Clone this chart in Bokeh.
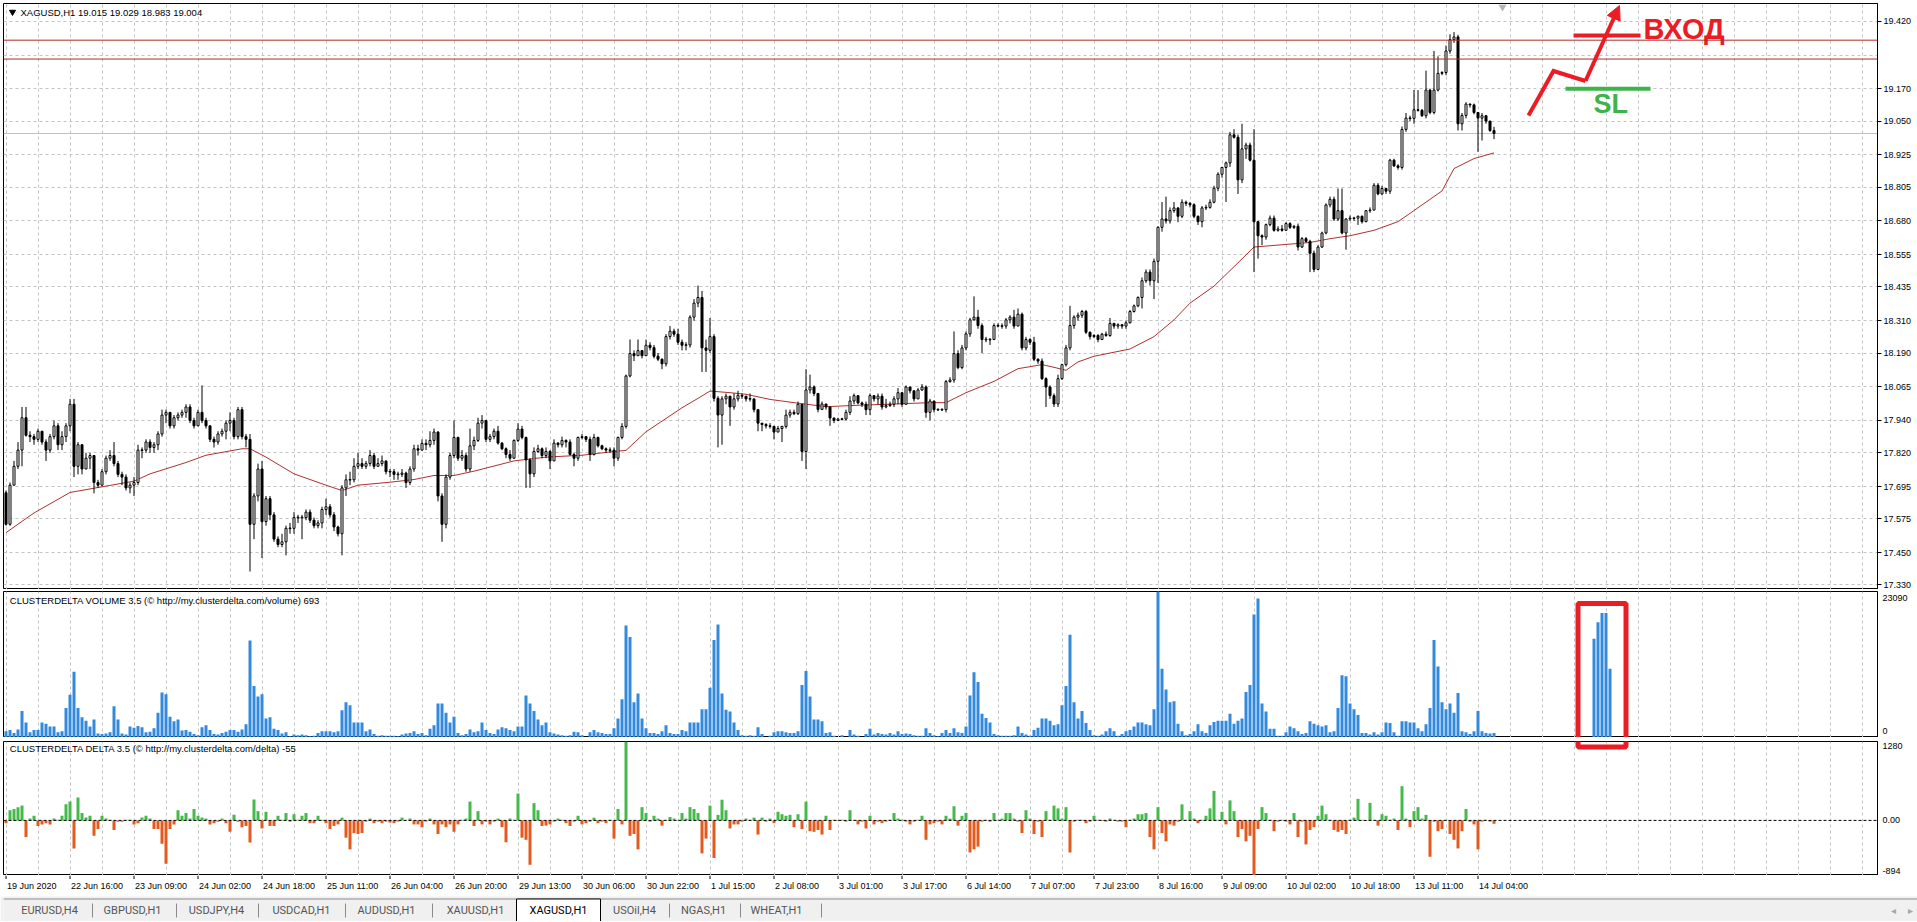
from bokeh.plotting import figure
from bokeh.layouts import column
from bokeh.models import (Range1d, FixedTicker, PrintfTickFormatter, Label, Span,
                          Arrow, NormalHead, ColumnDataSource)
from bokeh.core.properties import value
from bokeh.embed import file_html
from bokeh.resources import INLINE

# ---------------------------------------------------------------- data
symbol = "XAGUSD,H1"
first_open = 17.672

closes = [
17.555,17.70,17.77,17.83,17.95,17.885,17.88,17.87,17.90,17.86,
17.83,17.88,17.92,17.85,17.88,17.92,18.00,17.77,17.85,17.76,
17.80,17.81,17.71,17.70,17.75,17.80,17.81,17.78,17.74,17.73,
17.69,17.70,17.71,17.83,17.83,17.86,17.84,17.85,17.89,17.96,
17.97,17.92,17.95,17.96,17.97,17.99,17.94,17.92,17.97,17.94,
17.92,17.87,17.86,17.89,17.90,17.93,17.94,17.88,17.98,17.88,
17.87,17.555,17.66,17.76,17.565,17.65,17.59,17.50,17.48,17.49,
17.54,17.54,17.58,17.58,17.58,17.60,17.57,17.55,17.56,17.61,
17.62,17.59,17.545,17.52,17.69,17.72,17.72,17.77,17.78,17.77,
17.78,17.81,17.77,17.78,17.79,17.75,17.75,17.74,17.74,17.745,
17.71,17.76,17.835,17.83,17.855,17.85,17.866,17.897,17.66,17.555,
17.73,17.81,17.877,17.80,17.81,17.76,17.846,17.866,17.93,17.94,
17.87,17.88,17.90,17.856,17.835,17.814,17.80,17.866,17.908,17.877,
17.794,17.742,17.825,17.835,17.81,17.825,17.79,17.856,17.85,17.866,
17.86,17.814,17.80,17.877,17.88,17.87,17.814,17.877,17.846,17.835,
17.83,17.83,17.80,17.877,17.918,18.105,18.188,18.18,18.199,18.18,
18.219,18.21,18.178,18.167,18.15,18.251,18.271,18.26,18.23,18.219,
18.22,18.323,18.375,18.396,18.209,18.20,18.251,18.022,17.96,18.02,
18.03,17.99,18.02,18.033,18.03,18.02,18.02,17.98,17.93,17.925,
17.92,17.918,17.897,17.91,17.918,17.96,17.97,17.965,18.00,17.825,
18.053,18.064,18.04,17.981,18.001,17.99,17.949,17.94,17.945,17.945,
17.97,18.012,18.032,18.005,18.00,17.98,18.032,18.02,18.03,17.99,
17.995,18.00,18.02,18.043,18.00,18.064,18.05,18.02,18.053,18.064,
17.97,18.012,17.98,17.98,17.98,18.084,18.09,18.188,18.136,18.209,
18.261,18.313,18.323,18.292,18.24,18.24,18.24,18.292,18.29,18.29,
18.313,18.323,18.29,18.334,18.209,18.24,18.23,18.167,18.16,18.095,
18.064,18.032,18.001,18.095,18.147,18.209,18.292,18.323,18.33,18.344,
18.267,18.251,18.255,18.24,18.26,18.255,18.30,18.29,18.295,18.29,
18.302,18.344,18.365,18.396,18.458,18.49,18.458,18.53,18.656,18.687,
18.68,18.718,18.728,18.697,18.749,18.745,18.74,18.697,18.677,18.728,
18.73,18.749,18.801,18.853,18.878,18.895,18.999,18.99,18.832,18.947,
18.961,18.905,18.677,18.625,18.62,18.666,18.69,18.645,18.65,18.645,
18.67,18.656,18.66,18.583,18.614,18.604,18.56,18.50,18.583,18.635,
18.739,18.76,18.687,18.718,18.635,18.687,18.69,18.69,18.697,18.677,
18.718,18.72,18.812,18.78,18.80,18.79,18.905,18.884,18.878,19.019,
19.061,19.06,19.092,19.09,19.07,19.165,19.082,19.165,19.227,19.23,
19.31,19.352,19.362,19.04,19.071,19.113,19.11,19.082,19.061,19.07,
19.05,19.015,19.004]

highs = [
17.68,17.71,17.79,17.86,17.99,17.99,17.90,17.89,17.91,17.90,
17.87,17.89,17.94,17.93,17.90,17.93,18.02,18.02,17.86,17.85,
17.82,17.82,17.81,17.72,17.76,17.81,17.83,17.86,17.79,17.75,
17.74,17.71,17.73,17.85,17.84,17.87,17.87,17.86,17.90,17.98,
17.98,17.97,17.96,17.97,17.98,18.00,18.00,17.95,17.98,18.07,
17.95,17.92,17.88,17.90,17.91,17.94,17.97,17.95,17.99,17.99,
17.89,17.89,17.67,17.78,17.79,17.66,17.66,17.60,17.51,17.52,
17.55,17.56,17.60,17.59,17.59,17.61,17.61,17.58,17.57,17.62,
17.65,17.63,17.60,17.55,17.70,17.74,17.75,17.80,17.82,17.80,
17.79,17.83,17.82,17.80,17.81,17.79,17.76,17.76,17.75,17.76,
17.75,17.77,17.85,17.85,17.87,17.87,17.90,17.91,17.90,17.67,
17.74,17.82,17.94,17.88,17.83,17.82,17.91,17.88,17.95,17.96,
17.92,17.89,17.91,17.92,17.86,17.84,17.83,17.87,17.93,17.92,
17.88,17.80,17.84,17.85,17.84,17.84,17.83,17.87,17.86,17.88,
17.87,17.87,17.82,17.88,17.89,17.88,17.88,17.89,17.88,17.85,
17.84,17.84,17.84,17.88,17.93,18.11,18.24,18.20,18.24,18.20,
18.24,18.23,18.22,18.19,18.17,18.26,18.29,18.28,18.28,18.24,
18.23,18.33,18.39,18.44,18.42,18.24,18.32,18.26,18.03,18.03,
18.04,18.03,18.04,18.05,18.04,18.03,18.04,18.02,17.98,17.93,
17.93,17.93,17.92,17.92,17.92,17.98,17.98,17.98,18.01,18.00,
18.13,18.11,18.07,18.04,18.01,18.00,17.99,17.95,17.95,17.95,
17.98,18.03,18.04,18.03,18.01,18.01,18.04,18.03,18.04,18.04,
18.02,18.01,18.03,18.06,18.04,18.07,18.06,18.05,18.06,18.075,
18.07,18.02,18.01,17.985,17.985,18.09,18.10,18.27,18.20,18.22,
18.27,18.32,18.40,18.35,18.30,18.25,18.245,18.30,18.30,18.30,
18.32,18.33,18.35,18.355,18.34,18.25,18.245,18.25,18.17,18.17,
18.10,18.07,18.04,18.11,18.15,18.22,18.365,18.33,18.34,18.35,
18.35,18.27,18.26,18.26,18.265,18.27,18.32,18.30,18.30,18.295,
18.31,18.35,18.37,18.40,18.47,18.50,18.50,18.54,18.66,18.75,
18.77,18.73,18.75,18.73,18.76,18.755,18.75,18.745,18.70,18.735,
18.74,18.76,18.81,18.86,18.88,18.90,19.01,19.02,19.00,19.04,
18.97,18.97,19.02,18.68,18.63,18.67,18.70,18.70,18.66,18.665,
18.675,18.675,18.665,18.67,18.62,18.62,18.61,18.57,18.59,18.64,
18.745,18.77,18.77,18.80,18.80,18.69,18.70,18.695,18.70,18.70,
18.72,18.73,18.82,18.82,18.81,18.80,18.91,18.91,18.89,19.03,
19.08,19.07,19.165,19.165,19.095,19.237,19.17,19.31,19.29,19.235,
19.33,19.372,19.38,19.37,19.08,19.12,19.115,19.115,19.082,19.08,
19.07,19.05,19.029]

lows = [
17.55,17.55,17.70,17.76,17.77,17.88,17.86,17.85,17.86,17.85,
17.79,17.82,17.87,17.83,17.83,17.86,17.90,17.73,17.74,17.74,
17.76,17.76,17.67,17.69,17.70,17.74,17.79,17.77,17.73,17.70,
17.68,17.67,17.66,17.70,17.80,17.82,17.82,17.82,17.83,17.88,
17.93,17.91,17.91,17.94,17.95,17.95,17.93,17.91,17.92,17.93,
17.91,17.86,17.84,17.85,17.88,17.87,17.90,17.87,17.87,17.87,
17.84,17.38,17.50,17.64,17.43,17.55,17.57,17.49,17.47,17.47,
17.44,17.52,17.52,17.56,17.50,17.57,17.56,17.54,17.54,17.54,
17.59,17.58,17.53,17.51,17.44,17.66,17.70,17.71,17.76,17.76,
17.76,17.77,17.76,17.77,17.77,17.74,17.73,17.72,17.72,17.73,
17.69,17.70,17.75,17.81,17.83,17.83,17.84,17.85,17.64,17.49,
17.54,17.72,17.80,17.79,17.79,17.75,17.75,17.83,17.86,17.91,
17.86,17.86,17.87,17.85,17.83,17.80,17.79,17.80,17.86,17.87,
17.69,17.69,17.73,17.82,17.80,17.80,17.76,17.79,17.84,17.84,
17.84,17.81,17.77,17.79,17.87,17.86,17.79,17.81,17.84,17.83,
17.82,17.82,17.77,17.79,17.87,17.91,18.10,18.16,18.18,18.17,
18.18,18.20,18.17,18.16,18.13,18.14,18.24,18.25,18.22,18.20,
18.20,18.21,18.31,18.36,18.12,18.12,18.19,18.01,17.84,17.85,
18.00,17.92,17.98,18.01,18.02,18.01,18.01,17.97,17.90,17.90,
17.91,17.91,17.87,17.90,17.86,17.91,17.95,17.96,17.96,17.79,
17.76,18.04,18.03,17.97,17.98,17.98,17.92,17.93,17.94,17.94,
17.94,17.96,18.00,18.00,17.99,17.96,17.96,18.01,18.00,17.98,
17.985,17.99,17.99,18.00,17.99,18.00,18.04,18.01,18.02,18.05,
17.95,17.94,17.97,17.975,17.975,17.97,18.08,18.08,18.13,18.13,
18.20,18.25,18.31,18.28,18.19,18.23,18.22,18.24,18.285,18.28,
18.28,18.30,18.28,18.29,18.20,18.20,18.22,18.16,18.15,18.09,
17.99,18.02,17.99,17.99,18.09,18.14,18.20,18.28,18.31,18.32,
18.26,18.24,18.245,18.23,18.24,18.25,18.25,18.28,18.28,18.28,
18.28,18.30,18.34,18.36,18.355,18.45,18.44,18.39,18.45,18.64,
18.67,18.67,18.71,18.675,18.69,18.735,18.73,18.69,18.665,18.656,
18.72,18.725,18.745,18.79,18.84,18.75,18.88,18.985,18.78,18.82,
18.91,18.90,18.49,18.54,18.59,18.61,18.66,18.64,18.64,18.64,
18.645,18.65,18.65,18.57,18.58,18.60,18.49,18.49,18.50,18.58,
18.63,18.73,18.68,18.68,18.63,18.573,18.68,18.68,18.665,18.67,
18.675,18.71,18.72,18.775,18.775,18.78,18.78,18.88,18.87,18.87,
19.01,19.05,19.04,19.085,19.065,19.06,19.075,19.075,19.16,19.22,
19.22,19.30,19.34,19.015,19.015,19.06,19.10,19.075,18.936,18.978,
19.04,19.01,18.983]

volumes = [
1000,1190,730,1280,4200,2370,820,1190,1190,2370,
2190,1730,1730,820,1000,4660,6760,10400,4660,3200,
2650,1730,2830,640,550,640,820,4930,2830,640,
460,1730,1550,1830,1640,820,910,1460,3930,7120,
6850,3290,2560,2830,1100,1190,910,550,370,1640,
1920,1190,550,460,730,910,1190,1190,910,1280,
2100,15340,8130,6480,6850,3010,3200,1370,1190,640,
820,180,460,370,460,370,180,270,730,1000,
1000,1000,820,1000,4290,5570,5110,2370,2370,2370,
1000,1280,550,270,370,270,270,270,180,460,
640,730,1000,550,730,370,1370,1920,5390,5390,
3930,2370,3290,730,370,550,1280,820,1000,2370,
1190,730,550,1280,1640,1460,1190,1000,1730,1730,
6660,5390,4200,2830,1920,2370,820,640,460,370,
270,370,910,820,370,90,820,1190,820,730,
550,550,1460,3010,6030,17710,15890,5570,6940,3010,
1460,730,730,550,1000,1920,730,550,550,1190,
1000,2370,2370,2370,4470,4470,7850,15430,17890,6940,
4380,4110,2370,1190,370,270,370,270,1640,550,
90,270,820,1000,1000,820,730,730,1000,8310,
10500,6480,2830,2830,2560,730,820,270,90,370,
90,1190,460,270,90,550,1370,460,730,550,
460,730,460,1000,550,640,550,370,270,270,
1460,730,370,180,730,1190,730,1460,820,730,
1730,6660,10320,8760,3740,3100,2370,550,370,270,
270,270,370,1730,730,460,270,1190,1550,3010,
3010,2650,1920,2100,5110,8130,16250,5570,3010,4200,
2280,1190,370,270,460,1000,1460,1000,270,550,
1000,1190,1730,2370,2370,2100,1920,4470,23090,10860,
7580,5570,5750,2190,1000,370,550,1000,2100,1000,
730,1920,2460,2650,2650,2650,3740,2190,2650,3010,
7210,8310,19450,22000,5390,4110,1370,1370,270,270,
820,1730,1460,1000,550,730,2560,2190,1920,1730,
1920,820,1000,4660,9860,9680,5390,4470,3560,730,
730,460,820,460,820,2370,2280,820,270,2560,
2560,2370,2370,1460,1000,2100,4660,15430,11230,5570,
4470,5390,3930,7030,1000,820,550,1000,4200,1000,
730,640,693]

deltas = [
-45,165,185,215,240,-270,30,75,-90,-65,
-45,-65,30,10,75,260,305,-455,370,120,
45,75,-250,-140,75,30,10,-155,-20,-20,
10,10,-65,-45,45,75,30,-140,-140,-380,
-705,-140,-65,165,75,120,30,185,75,45,
30,-65,-45,-20,30,-45,-185,90,-20,-110,
-90,-360,340,150,-130,140,-90,-90,75,10,
120,-20,100,10,75,120,-45,-45,75,10,
-45,-140,-90,-65,45,-280,-470,-205,-220,-205,
-20,30,-45,-20,-45,-20,-35,-45,-20,45,
10,30,-65,-65,-110,-20,30,-65,-220,-65,
-110,-65,-185,-65,10,30,305,-90,150,-65,
-20,-65,-20,30,-110,-355,30,10,435,-280,
-315,-720,280,165,-90,-85,-65,-20,30,10,
-45,-90,-20,75,-65,-45,-20,45,-45,-20,
-45,10,-295,185,-65,1280,-250,-220,-470,215,
120,-20,75,30,-85,10,55,30,10,120,
30,215,185,120,-535,-295,240,-610,90,335,
165,-130,-65,-65,-20,30,10,45,-230,45,
-20,30,-45,140,100,75,90,-110,100,-140,
305,-175,-185,-155,-230,75,-155,10,-10,10,
-20,165,10,-65,-20,-130,75,-65,-20,-45,
-20,10,120,30,10,-20,-65,-20,10,75,
-315,-65,-45,-20,-65,75,30,230,-85,75,
120,-520,-470,-425,-20,10,-20,120,10,30,
120,120,30,-20,-205,165,30,-220,-20,-270,
150,10,240,195,30,215,-520,-20,10,10,
-45,-20,75,10,-10,-20,30,10,-20,-20,
-110,10,30,100,100,120,-270,-470,215,-205,
-340,-65,-85,-20,260,10,150,30,-45,10,
75,195,480,10,140,-65,325,150,-270,-140,
-340,-250,-894,-140,215,120,10,-175,-20,10,
-20,-65,120,-270,-20,-390,-155,-110,75,240,
100,10,-155,-185,-155,-220,10,45,350,10,
-10,285,10,-85,100,75,10,30,-155,555,
30,-110,150,215,30,90,-590,-20,-175,-140,
10,-220,-315,-455,-175,185,-20,-65,-470,-20,
10,-20,-55]

ma_bars = [0,7,16,24,32,36,45,50,59,61,65,72,80,84,88,96,102,107,112,117,
           127,135,144,152,155,160,169,173,176,181,185,191,197,205,214,222,231,235,240,247,
           253,259,262,265,268,272,281,287,292,296,302,307,312,317,326,331,336,342,348,354,
           359,362,367,372]
ma_vals = [17.524,17.597,17.673,17.694,17.715,17.742,17.784,17.811,17.835,17.835,
           17.804,17.742,17.700,17.680,17.700,17.711,17.721,17.736,17.736,17.752,
           17.790,17.804,17.811,17.825,17.829,17.898,17.987,18.022,18.049,18.043,
           18.037,18.018,18.006,17.991,17.997,18.001,18.006,18.006,18.043,18.085,
           18.132,18.147,18.137,18.126,18.157,18.178,18.205,18.251,18.313,18.375,
           18.438,18.510,18.583,18.589,18.600,18.614,18.625,18.645,18.677,18.739,
           18.791,18.874,18.911,18.932]

time_label_bars = [0,16,32,48,64,80,96,112,128,144,160,176,192,208,224,240,256,272,288,304,320,336,352,368]
time_labels = ["19 Jun 2020","22 Jun 16:00","23 Jun 09:00","24 Jun 02:00","24 Jun 18:00","25 Jun 11:00",
               "26 Jun 04:00","26 Jun 20:00","29 Jun 13:00","30 Jun 06:00","30 Jun 22:00","1 Jul 15:00",
               "2 Jul 08:00","3 Jul 01:00","3 Jul 17:00","6 Jul 14:00","7 Jul 07:00","7 Jul 23:00",
               "8 Jul 16:00","9 Jul 09:00","10 Jul 02:00","10 Jul 18:00","13 Jul 11:00","14 Jul 04:00"]

price_ticks = [19.420,19.170,19.050,18.925,18.805,18.680,18.555,18.435,18.310,18.190,
               18.065,17.940,17.820,17.695,17.575,17.450,17.330]
hidden_grid_level = 19.295
level_lines = [19.350, 19.280]
vol_axis_max = 23090
delta_axis_max = 1280
delta_axis_min = -894
box_bars = [397, 398, 399, 400, 401]
box_volumes = [15610, 18210, 19670, 19670, 10890]

tab_names = ["EURUSD,H4","GBPUSD,H1","USDJPY,H4","USDCAD,H1","AUDUSD,H1",
             "XAUUSD,H1","XAGUSD,H1","USOil,H4","NGAS,H1","WHEAT,H1"]
active_tab = "XAGUSD,H1"

# ---------------------------------------------------------------- styling
BLUE = "#3389db"
DGREEN = "#45b94a"
ORANGE = "#e35a1e"
MA_C = "#b03030"
LVL_C = "#b3292b"
GRID_C = "#c4c4c4"
RED = "#ec1c24"
SLGREEN = "#3cb44a"
FONT = "Liberation Sans"

N = min(len(closes), len(highs), len(lows), len(volumes), len(deltas))
closes, highs, lows = closes[:N], highs[:N], lows[:N]
volumes, deltas = volumes[:N], deltas[:N]
idx = list(range(N))
opens = [first_open] + closes[:-1]

# page geometry (pixels)
W = 1917
FW = 1874           # frame width of the chart panels
LB, RB = 3, 40      # left / right borders
MAIN_TOP, MAIN_H = 3, 586
VOL_TOP, VOL_H = 2, 146
DEL_TOP, DEL_H = 4, 134
TIME_H, TAB_H = 21, 25

MAIN_Y0 = MAIN_TOP
VOL_Y0 = MAIN_TOP + MAIN_H + VOL_TOP
DEL_Y0 = VOL_Y0 + VOL_H + DEL_TOP

# page-pixel -> data helpers (used for annotations only)
def bx(px):
    return (px - 5.5) / 4.0
def py(px):
    return 19.42 - (px - 20.8) / 269.7
def vy(px):
    return (VOL_Y0 + VOL_H - px) * vol_axis_max / float(VOL_H)
def dy(px):
    return delta_axis_max - (px - DEL_Y0) * (delta_axis_max - delta_axis_min) / float(DEL_H)

xr = Range1d(-0.625, -0.625 + FW / 4.0)
vgrid = list(range(0, 468, 8))


def panel(h, yr, top):
    f = figure(frame_width=FW, frame_height=h, x_range=xr, y_range=yr,
               min_border_left=LB, min_border_right=RB, min_border_top=top, min_border_bottom=0,
               toolbar_location=None, output_backend="svg", x_axis_location=None,
               y_axis_location="right", title=None)
    f.outline_line_color = "black"
    f.background_fill_color = "white"
    f.border_fill_color = "white"
    ax = f.yaxis[0]
    ax.axis_line_color = "black"
    ax.major_tick_line_color = "black"
    ax.minor_tick_line_color = None
    ax.major_tick_in = 0
    ax.major_label_text_font = FONT
    ax.major_label_text_font_size = "9px"
    ax.major_label_text_color = "black"
    f.xgrid.ticker = FixedTicker(ticks=vgrid)
    f.xgrid.grid_line_color = GRID_C
    f.xgrid.grid_line_dash = "3 3"
    f.ygrid.visible = False
    return f


# ---------------------------------------------------------------- main price panel
main = panel(MAIN_H, Range1d(py(MAIN_Y0 + MAIN_H), py(MAIN_Y0)), MAIN_TOP)
main.yaxis.ticker = FixedTicker(ticks=price_ticks)
main.yaxis.formatter = PrintfTickFormatter(format="%.3f")
main.yaxis.major_tick_out = 4
main.yaxis.major_label_standoff = 2
main.ygrid.visible = True
main.ygrid.ticker = FixedTicker(ticks=price_ticks + [hidden_grid_level])
main.ygrid.grid_line_color = GRID_C
main.ygrid.grid_line_dash = "3 3"

main.add_layout(Span(location=closes[-1], dimension="width", line_color="#c0c0c0",
                     line_width=1, level="underlay"))
for lv in level_lines:
    main.add_layout(Span(location=lv, dimension="width", line_color=LVL_C, line_width=1))

btop, bbot, fills, whi, wlo = [], [], [], [], []
for o, c, h, l in zip(opens, closes, highs, lows):
    t, b = max(o, c), min(o, c)
    if t - b < 0.0025:
        m = (t + b) / 2.0
        t, b = m + 0.00125, m - 0.00125
    btop.append(t)
    bbot.append(b)
    fills.append("white" if c >= o else "black")
    whi.append(max(h, o, c))
    wlo.append(min(l, o, c))
csrc = ColumnDataSource(dict(x=idx, hi=whi, lo=wlo, top=btop, bot=bbot, fill=fills))
main.line(ma_bars, ma_vals, line_color=MA_C, line_width=1)
main.segment(x0="x", y0="lo", x1="x", y1="hi", source=csrc, line_color="black", line_width=1)
main.vbar(x="x", width=0.5, top="top", bottom="bot", fill_color="fill",
          line_color="black", line_width=1, source=csrc)

# header
main.scatter(x=[bx(12)], y=[py(11.5)], marker="inverted_triangle", size=6,
             fill_color="black", line_color="black")
hdr = "%s  %.3f %.3f %.3f %.3f" % (symbol, opens[-1], highs[-1], lows[-1], closes[-1])
main.text(x=[bx(20)], y=[py(11.5)], text=[hdr], text_font=value(FONT), text_font_size="9.5px",
          text_baseline="middle", text_align="left", text_color="black")
# chart-shift marker
main.scatter(x=[bx(1502)], y=[py(6.5)], marker="inverted_triangle", size=8,
             fill_color="#b4b4b4", line_color=None)

# drawn annotation: entry arrow, entry line, SL line
main.line([bx(1528), bx(1553), bx(1585)], [py(115), py(70.5), py(80.5)],
          line_color=RED, line_width=4, line_join="miter")
main.add_layout(Arrow(end=NormalHead(size=14, fill_color=RED, line_color=RED, line_width=1),
                      x_start=bx(1585), y_start=py(80.5), x_end=bx(1619), y_end=py(5),
                      line_color=RED, line_width=4))
main.segment(x0=[bx(1573)], y0=[py(35)], x1=[bx(1640)], y1=[py(35)], line_color=RED, line_width=4)
main.text(x=[bx(1643)], y=[py(28.5)], text=["ВХОД"], text_font=value(FONT), text_font_style="bold",
          text_font_size="29px", text_baseline="middle", text_align="left", text_color=RED)
main.segment(x0=[bx(1565)], y0=[py(88.3)], x1=[bx(1650)], y1=[py(88.3)], line_color=SLGREEN, line_width=4)
main.text(x=[bx(1593)], y=[py(103)], text=["SL"], text_font=value(FONT), text_font_style="bold",
          text_font_size="27px", text_baseline="middle", text_align="left", text_color=SLGREEN)


def axis_box(fig, yv, txt, bg):
    lab = Label(x=xr.end, y=yv, x_units="data", y_units="data", text=txt,
                text_font=FONT, text_font_size="9px", text_color="white",
                text_align="left", text_baseline="middle", x_offset=4,
                background_fill_color=bg, background_fill_alpha=1.0)
    try:
        lab.padding = 2
    except Exception:
        pass
    fig.add_layout(lab)


for lv in level_lines:
    axis_box(main, lv, "%.3f" % lv, "#e3262b")
axis_box(main, closes[-1], "%.3f" % closes[-1], "black")

# ---------------------------------------------------------------- volume panel
vol = panel(VOL_H, Range1d(0, vol_axis_max), VOL_TOP)
vt_top, vt_bot = int(round(vy(597))), int(round(vy(730.7)))
vol.yaxis.ticker = FixedTicker(ticks=[vt_top, vt_bot])
vol.yaxis.major_label_overrides = {vt_top: str(vol_axis_max), vt_bot: "0"}
vol.yaxis.major_tick_out = 0
vol.yaxis.major_label_standoff = 5
vol.vbar(x=idx, width=0.75, top=volumes, bottom=0, fill_color=BLUE, line_color=None)
vol.vbar(x=box_bars, width=0.75, top=box_volumes, bottom=0, fill_color=BLUE, line_color=None)
vol.quad(left=[bx(1577.5)], right=[bx(1625.5)], top=[vy(603)], bottom=[vy(746.5)],
         fill_color=None, line_color=RED, line_width=5)
vol.text(x=[bx(9.3)], y=[vy(599.7)],
         text=["CLUSTERDELTA VOLUME 3.5 (\u00a9 http://my.clusterdelta.com/volume) %d" % volumes[-1]],
         text_font=value(FONT), text_font_size="9.5px", text_baseline="middle", text_align="left",
         text_color="black")

# ---------------------------------------------------------------- delta panel
dlt = panel(DEL_H, Range1d(delta_axis_min, delta_axis_max), DEL_TOP)
dt_top, dt_bot = int(round(dy(746))), int(round(dy(870.7)))
dlt.yaxis.ticker = FixedTicker(ticks=[dt_top, 0, dt_bot])
dlt.yaxis.major_label_overrides = {dt_top: str(delta_axis_max), 0: "0.00", dt_bot: str(delta_axis_min)}
dlt.yaxis.major_tick_out = 0
dlt.yaxis.major_label_standoff = 5
dcol = [DGREEN if d >= 0 else ORANGE for d in deltas]
dlt.vbar(x=idx, width=0.75, top=deltas, bottom=0, fill_color=dcol, line_color=None)
dlt.add_layout(Span(location=0, dimension="width", line_color="black", line_width=1, line_dash="3 2"))
dlt.quad(left=[bx(1577.5)], right=[bx(1625.5)], top=[dy(603)], bottom=[dy(746.5)],
         fill_color=None, line_color=RED, line_width=5)
dlt.text(x=[bx(9.3)], y=[dy(748)],
         text=["CLUSTERDELTA DELTA 3.5 (\u00a9 http://my.clusterdelta.com/delta) %d" % deltas[-1]],
         text_font=value(FONT), text_font_size="9.5px", text_baseline="middle", text_align="left",
         text_color="black")

# ---------------------------------------------------------------- time axis strip
tf = figure(frame_width=FW, frame_height=TIME_H, x_range=xr, y_range=Range1d(0, TIME_H),
            min_border_left=LB, min_border_right=RB, min_border_top=0, min_border_bottom=0,
            toolbar_location=None, output_backend="svg", x_axis_location=None,
            y_axis_location=None, title=None)
tf.outline_line_color = None
tf.grid.visible = False
tf.background_fill_color = "white"
tf.border_fill_color = "white"
nT = len(time_label_bars)
tf.segment(x0=time_label_bars, y0=[TIME_H] * nT, x1=time_label_bars, y1=[TIME_H - 3.5] * nT,
           line_color="black", line_width=1)
tf.text(x=time_label_bars, y=[TIME_H - 10] * nT, text=time_labels, x_offset=1,
        text_font=value(FONT), text_font_size="9px", text_baseline="middle",
        text_align="left", text_color="black")

# ---------------------------------------------------------------- tab bar
tb = figure(frame_width=W, frame_height=TAB_H, x_range=Range1d(0, W), y_range=Range1d(TAB_H, 0),
            min_border_left=0, min_border_right=0, min_border_top=0, min_border_bottom=0,
            toolbar_location=None, output_backend="svg", x_axis_location=None,
            y_axis_location=None, title=None)
tb.outline_line_color = None
tb.grid.visible = False
tb.background_fill_color = "#f0f0f0"
tb.border_fill_color = "#f0f0f0"
tab_centers = [46, 129, 213, 298, 383, 472, 555, 631, 700, 773]
tab_seps = [89, 173, 255, 342, 429, 666, 737, 818]
tb.segment(x0=[0], y0=[2.5], x1=[W], y1=[2.5], line_color="#8c8c8c", line_width=1)
ai = tab_names.index(active_tab)
tb.quad(left=[tab_centers[ai] - 42], right=[tab_centers[ai] + 42], top=[2.5], bottom=[TAB_H],
        fill_color="white", line_color="black", line_width=1)
tb.segment(x0=tab_seps, y0=[7] * len(tab_seps), x1=tab_seps, y1=[21] * len(tab_seps),
           line_color="#8a8a8a", line_width=1)
tb.text(x=tab_centers, y=[13.5] * len(tab_names), text=tab_names,
        text_color=["black" if t == active_tab else "#555555" for t in tab_names],
        text_font=value("Roboto"), text_font_size="11px", text_baseline="middle", text_align="center")
tb.text(x=[1890, 1907], y=[13.5, 13.5], text=["\u25c2", "\u25b8"], text_color="#a8a8a8",
        text_font=value("DejaVu Sans"), text_font_size="10px", text_baseline="middle",
        text_align="center")

layout = column(main, vol, dlt, tf, tb, spacing=0)
open("out.html", "w").write(file_html(layout, INLINE, title="XAGUSD,H1"))
